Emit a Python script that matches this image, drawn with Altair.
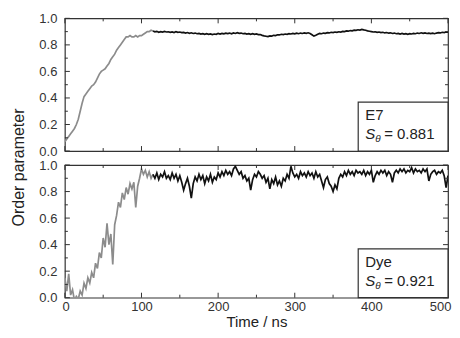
import altair as alt
import numpy as np
import pandas as pd

STEP = 2.5          # ns between stored samples
T_SWITCH = 115.0    # ns where production run starts

# ---- E7 (top panel) ----
e7_eq = [0.07, 0.09, 0.11, 0.13, 0.15, 0.17, 0.20, 0.24, 0.30, 0.36,
         0.41, 0.43, 0.45, 0.47, 0.49, 0.50, 0.52, 0.55, 0.58, 0.60,
         0.61, 0.62, 0.64, 0.66, 0.69, 0.71, 0.73, 0.76, 0.78, 0.80,
         0.82, 0.84, 0.86, 0.86, 0.87, 0.86, 0.86, 0.87, 0.86, 0.87,
         0.87, 0.88, 0.89, 0.90, 0.90, 0.91, 0.905]
e7_prod = [0.905, 0.898, 0.902, 0.895, 0.900, 0.896, 0.901, 0.897, 0.899, 0.894,
           0.898, 0.893, 0.900, 0.895, 0.897, 0.892, 0.894, 0.889, 0.893, 0.887,
           0.891, 0.886, 0.889, 0.884, 0.887, 0.882, 0.885, 0.880, 0.884, 0.879,
           0.883, 0.878, 0.882, 0.880, 0.886, 0.882, 0.887, 0.883, 0.888, 0.885,
           0.889, 0.884, 0.890, 0.886, 0.892, 0.887, 0.889, 0.884, 0.887, 0.882,
           0.885, 0.880, 0.884, 0.879, 0.882, 0.877, 0.878, 0.872, 0.868, 0.865,
           0.862, 0.868, 0.866, 0.872, 0.870, 0.876, 0.875, 0.880, 0.878, 0.882,
           0.880, 0.884, 0.882, 0.886, 0.883, 0.888, 0.884, 0.889, 0.886, 0.890,
           0.887, 0.891, 0.886, 0.876, 0.866, 0.872, 0.880, 0.886, 0.884, 0.889,
           0.887, 0.892, 0.890, 0.895, 0.893, 0.897, 0.895, 0.899, 0.897, 0.902,
           0.900, 0.905, 0.903, 0.908, 0.906, 0.911, 0.909, 0.914, 0.912, 0.917,
           0.913, 0.910, 0.906, 0.903, 0.900, 0.897, 0.899, 0.894, 0.897, 0.892,
           0.895, 0.890, 0.893, 0.888, 0.891, 0.886, 0.889, 0.884, 0.887, 0.882,
           0.886, 0.881, 0.885, 0.880, 0.884, 0.882, 0.887, 0.884, 0.889, 0.886,
           0.891, 0.887, 0.890, 0.886, 0.889, 0.885, 0.888, 0.884, 0.889, 0.892,
           0.890, 0.895, 0.893, 0.897, 0.895]

# ---- Dye (bottom panel) ----
dye_eq = [0.15, 0.05, 0.18, 0.02, 0.06, -0.02, 0.01, -0.01, 0.05, 0.02,
          0.11, 0.07, 0.15, 0.11, 0.19, 0.15, 0.26, 0.22, 0.34, 0.30,
          0.45, 0.38, 0.56, 0.40, 0.48, 0.25, 0.55, 0.62, 0.72, 0.68,
          0.79, 0.74, 0.83, 0.78, 0.86, 0.82, 0.87, 0.68, 0.84, 0.90,
          0.97, 0.93, 0.96, 0.91, 0.95, 0.90, 0.93]
dye_prod = [0.93, 0.90, 0.94, 0.89, 0.93, 0.91, 0.95, 0.90, 0.92, 0.89,
            0.94, 0.90, 0.93, 0.88, 0.92, 0.87, 0.81, 0.86, 0.90, 0.84,
            0.75, 0.86, 0.91, 0.88, 0.93, 0.89, 0.92, 0.86, 0.91, 0.88,
            0.93, 0.87, 0.91, 0.89, 0.94, 0.91, 0.95, 0.92, 0.96, 0.93,
            0.95, 0.92, 0.97, 0.99, 0.96, 0.93, 0.95, 0.90, 0.92, 0.88,
            0.90, 0.81, 0.89, 0.93, 0.91, 0.95, 0.93, 0.90, 0.92, 0.87,
            0.90, 0.82, 0.89, 0.86, 0.91, 0.85, 0.88, 0.84, 0.90, 0.88,
            0.93, 0.90, 0.99, 0.94, 0.91, 0.93, 0.90, 0.95, 0.92, 0.94,
            0.91, 0.95, 0.92, 0.94, 0.90, 0.95, 0.91, 0.93, 0.88, 0.83,
            0.89, 0.91, 0.86, 0.84, 0.80, 0.85, 0.82, 0.90, 0.93, 0.91,
            0.95, 0.92, 0.96, 0.93, 0.95, 0.92, 0.96, 0.94, 0.95, 0.93,
            0.96, 0.92, 0.95, 0.93, 0.96, 0.87, 0.92, 0.95, 0.93, 0.96,
            0.94, 0.96, 0.92, 0.95, 0.93, 0.87, 0.94, 0.96, 0.94, 0.97,
            0.95, 0.97, 0.94, 0.96, 0.95, 0.98, 0.94, 0.97, 0.95, 0.96,
            0.94, 0.97, 0.95, 0.97, 0.88, 0.93, 0.95, 0.96, 0.93, 0.95,
            0.94, 0.96, 0.92, 0.83, 0.92]

panel_names = ["E7", "Dye"]
panel_stats = ["= 0.881", "= 0.921"]

x_major = [0, 100, 200, 300, 400, 500]
x_minor = [50, 150, 250, 350, 450]
y_major = [0.0, 0.2, 0.4, 0.6, 0.8, 1.0]
y_minor = [0.1, 0.3, 0.5, 0.7, 0.9]

W, H = 384, 133
FONT = "Liberation Sans"
INK = "#333333"
MAJ, MIN = 5, 3


def frame(eq, prod):
    t_eq = np.arange(len(eq)) * STEP
    t_prod = T_SWITCH + np.arange(len(prod)) * STEP
    a = pd.DataFrame({"t": t_eq, "v": eq, "phase": "eq"})
    b = pd.DataFrame({"t": t_prod, "v": prod, "phase": "prod"})
    return pd.concat([a, b], ignore_index=True)


def xs():
    return alt.Scale(domain=[0, 500], nice=False, zero=False)


def ys():
    return alt.Scale(domain=[0, 1], nice=False, zero=False)


def xticks(vals, size, axis):
    d = pd.DataFrame({"t": vals})
    bottom = alt.Chart(d).mark_rule(color=INK, strokeWidth=1).encode(
        x=alt.X("t:Q", scale=xs(), axis=axis),
        y=alt.value(H), y2=alt.value(H - size))
    top = alt.Chart(d).mark_rule(color=INK, strokeWidth=1).encode(
        x=alt.X("t:Q", scale=xs(), axis=axis),
        y=alt.value(0), y2=alt.value(size))
    return [bottom, top]


def yticks(vals, size, axis):
    d = pd.DataFrame({"v": vals})
    left = alt.Chart(d).mark_rule(color=INK, strokeWidth=1).encode(
        y=alt.Y("v:Q", scale=ys(), axis=axis),
        x=alt.value(0), x2=alt.value(size))
    right = alt.Chart(d).mark_rule(color=INK, strokeWidth=1).encode(
        y=alt.Y("v:Q", scale=ys(), axis=axis),
        x=alt.value(W), x2=alt.value(W - size))
    return [left, right]


def panel(eq, prod, name, stat, bottom):
    df = frame(eq, prod)
    if bottom:
        xaxis = alt.Axis(values=x_major, format="d", ticks=False, domain=False,
                         grid=False, labelFlush=True, labelFlushOffset=3,
                         labelFontSize=13, labelColor=INK, labelPadding=3,
                         title="Time / ns", titleFontSize=15,
                         titleFontWeight="normal", titleColor="#222",
                         titlePadding=1)
        yaxis = alt.Axis(values=y_major, format=".1f", ticks=False, domain=False,
                         grid=False, labelFlush=False, labelFontSize=13,
                         labelColor=INK, labelPadding=8,
                         title="Order parameter", titleFontSize=16,
                         titleFontWeight="normal", titleColor="#222",
                         titleAngle=270, titleX=-46, titleY=2,
                         titleBaseline="middle", titleAlign="center")
    else:
        xaxis = alt.Axis(values=x_major, labels=False, ticks=False, domain=False,
                         grid=False, title=None)
        yaxis = alt.Axis(values=y_major, format=".1f", ticks=False, domain=False,
                         grid=False, labelFlush=False, labelFontSize=13,
                         labelColor=INK, labelPadding=8, title=None)

    lines = alt.Chart(df).mark_line(strokeWidth=1.7, clip=True).encode(
        x=alt.X("t:Q", scale=xs(), axis=xaxis),
        y=alt.Y("v:Q", scale=ys(), axis=yaxis),
        color=alt.Color("phase:N", legend=None,
                        scale=alt.Scale(domain=["eq", "prod"],
                                        range=["#8c8c8c", "#111111"])),
    )

    ticks = (xticks(x_major, MAJ, xaxis) + xticks(x_minor, MIN, xaxis)
             + yticks(y_major, MAJ, yaxis) + yticks(y_minor, MIN, yaxis))

    lab = pd.DataFrame({"name": [name], "stat": [stat]})
    box = alt.Chart(lab).mark_rect(fill="white", stroke=INK, strokeWidth=1.2).encode(
        x=alt.value(294), x2=alt.value(W), y=alt.value(84), y2=alt.value(H))
    t_name = alt.Chart(lab).mark_text(align="left", baseline="middle",
                                      fontSize=15, color="#222").encode(
        x=alt.value(301), y=alt.value(97), text="name:N")
    t_s = alt.Chart(lab).mark_text(align="left", baseline="middle", fontSize=15,
                                   fontStyle="italic", color="#222").encode(
        x=alt.value(301), y=alt.value(116), text=alt.value("S"))
    t_th = alt.Chart(lab).mark_text(align="left", baseline="middle", fontSize=10,
                                    fontStyle="italic", color="#222").encode(
        x=alt.value(311), y=alt.value(121), text=alt.value("θ"))
    t_val = alt.Chart(lab).mark_text(align="left", baseline="middle",
                                     fontSize=15, color="#222").encode(
        x=alt.value(320), y=alt.value(116), text="stat:N")

    return alt.layer(lines, *ticks, box, t_name, t_s, t_th, t_val).properties(
        width=W, height=H)


top = panel(e7_eq, e7_prod, panel_names[0], panel_stats[0], False)
bot = panel(dye_eq, dye_prod, panel_names[1], panel_stats[1], True)

chart = alt.vconcat(top, bot, spacing=14, bounds="flush").properties(
    padding={"left": 2, "top": 3, "right": 0, "bottom": 0}
).configure(font=FONT).configure_view(stroke=INK, strokeWidth=1.2)

chart.save("out.html", embed_options={"renderer": "svg", "actions": False})
